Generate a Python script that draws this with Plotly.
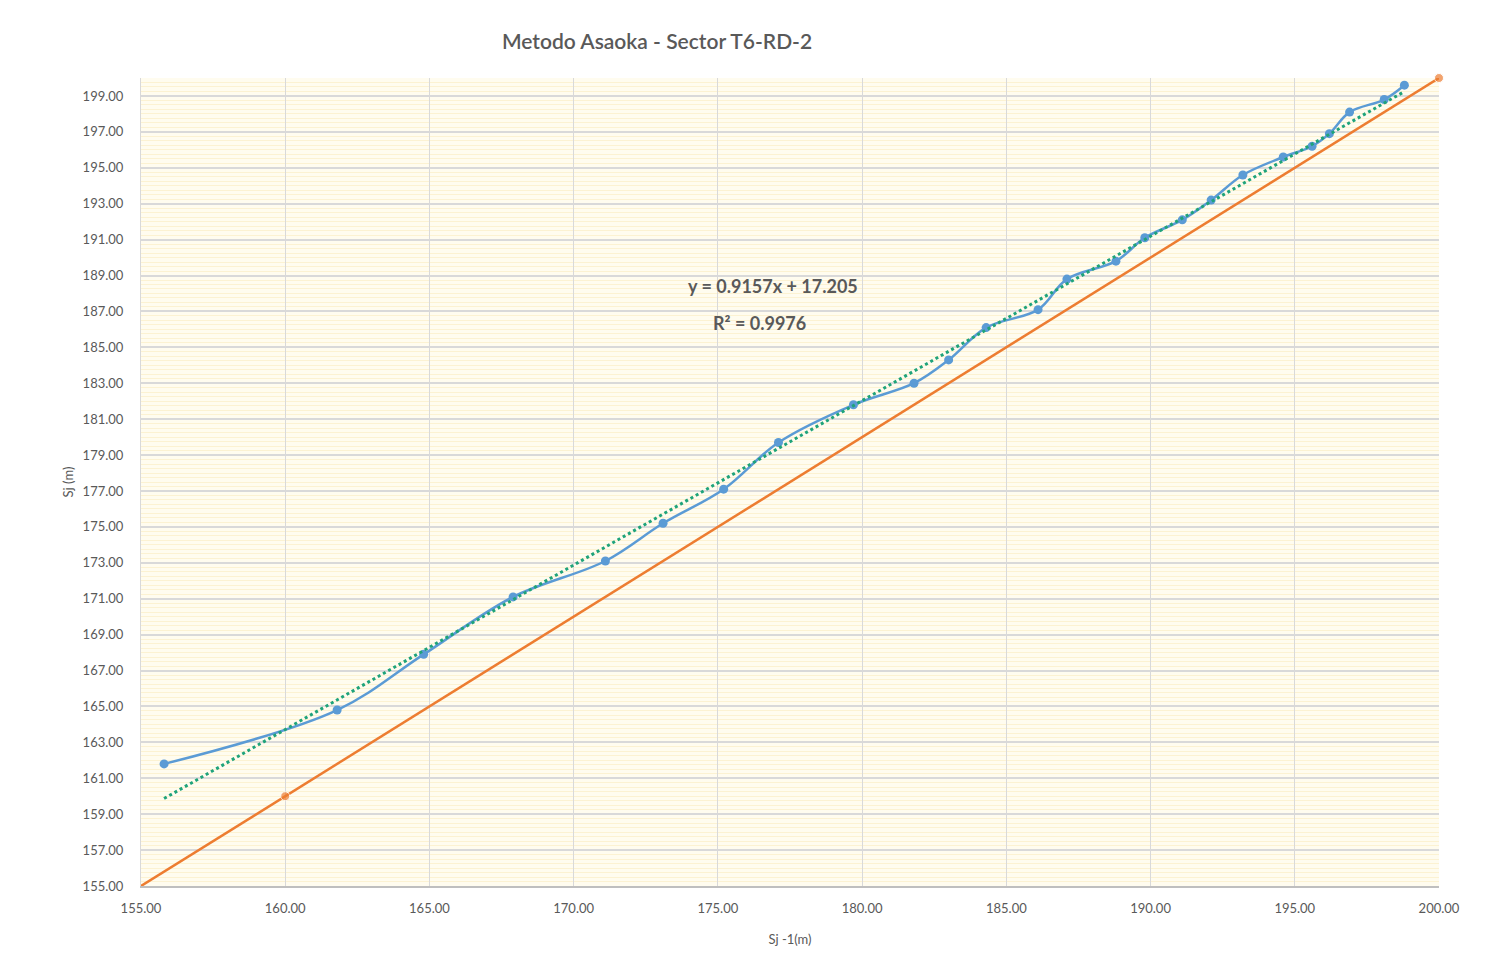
import plotly.graph_objects as go

# Asaoka data: S(j-1) vs S(j)
sj_prev = [155.8, 161.8, 164.8, 167.9, 171.1, 173.1, 175.2, 177.1, 179.7, 181.8,
           183.0, 184.3, 186.1, 187.1, 188.8, 189.8, 191.1, 192.1, 193.2, 194.6,
           195.6, 196.2, 196.9, 198.1, 198.8]
sj = [161.8, 164.8, 167.9, 171.1, 173.1, 175.2, 177.1, 179.7, 181.8, 183.0,
      184.3, 186.1, 187.1, 188.8, 189.8, 191.1, 192.1, 193.2, 194.6, 195.6,
      196.2, 196.9, 198.1, 198.8, 199.6]

# 45-degree reference line
ref_x = [155, 160, 200]
ref_y = [155, 160, 200]

# Linear trendline (from chart label)
slope = 0.9157
intercept = 17.205
trend_x = [sj_prev[0], sj_prev[-1]]
trend_y = [slope * v + intercept for v in trend_x]

title_text = "Metodo Asaoka - Sector T6-RD-2"
eq_text = "y = 0.9157x + 17.205"
r2_text = "R² = 0.9976"

OFF = 8  # page body offset
W, H = 1505, 965
L, R, T, B = 141 - OFF, 66 + OFF, 78 - OFF, 79 + OFF
pw, ph = W - L - R, H - T - B

grey = "#595959"
fam = "Lato"

fig = go.Figure()

fig.add_trace(go.Scatter(
    x=ref_x, y=ref_y, mode="lines+markers",
    line=dict(color="#ED7D31", width=2.5),
    marker=dict(color="#ED7D31", size=[0, 9, 9]),
    showlegend=False, cliponaxis=False,
))

fig.add_trace(go.Scatter(
    x=sj_prev, y=sj, mode="lines+markers",
    line=dict(color="#5B9BD5", width=2.5, shape="spline", smoothing=1.0),
    marker=dict(color="#5B9BD5", size=9),
    showlegend=False,
))

fig.add_trace(go.Scatter(
    x=trend_x, y=trend_y, mode="lines",
    line=dict(color="#1FA37A", width=3, dash="dot"),
    showlegend=False,
))

fig.update_layout(
    width=W, height=H,
    margin=dict(l=L, r=R, t=T, b=B),
    paper_bgcolor="white",
    plot_bgcolor="#FFFCEF",
    font=dict(family=fam, color=grey),
    title=dict(text=title_text, x=(657 - OFF) / W, xanchor="center", xref="container",
               y=1 - (42 - OFF) / H, yanchor="middle", yref="container",
               font=dict(size=21, color=grey, family=fam, weight=600)),
    xaxis=dict(
        range=[155, 200], tick0=155, dtick=5, tickformat=".2f",
        showgrid=True, gridcolor="#D9D9D9", gridwidth=1,
        showline=True, linecolor="#BFBFBF", linewidth=1.5,
        zeroline=False, ticks="", ticklabelstandoff=10,
        tickfont=dict(size=13, color=grey),
        title=dict(text="Sj -1(m)", font=dict(size=13, color=grey), standoff=20),
    ),
    yaxis=dict(
        range=[155, 200], tick0=155, dtick=2, tickformat=".2f",
        showgrid=True, gridcolor="#D9D9D9", gridwidth=1.5,
        showline=True, linecolor="#D9D9D9", linewidth=1,
        zeroline=False, ticks="", ticklabelstandoff=14,
        tickfont=dict(size=13, color=grey),
        title=dict(text="Sj (m)", font=dict(size=13, color=grey), standoff=6),
        minor=dict(dtick=0.25, tick0=155, showgrid=True,
                   gridcolor="#FCF2D2", gridwidth=1),
    ),
    shapes=[dict(type="rect", xref="paper", yref="paper",
                 x0=(-3 - L) / pw, x1=(1498 - OFF - L) / pw,
                 y0=-(B + 10) / ph, y1=1 + (T + 10) / ph,
                 line=dict(color="#D9D9D9", width=1), layer="below")],
)

fig.add_annotation(x=155 + (773 - 141) / pw * 45, y=155 + (886 - 286) / ph * 45,
                   text="<b>" + eq_text + "</b>", showarrow=False,
                   font=dict(size=18, color=grey, family=fam))
fig.add_annotation(x=155 + (759 - 141) / pw * 45, y=155 + (886 - 323) / ph * 45,
                   text="<b>" + r2_text + "</b>", showarrow=False,
                   font=dict(size=18, color=grey, family=fam))

fig.write_html("out.html")
